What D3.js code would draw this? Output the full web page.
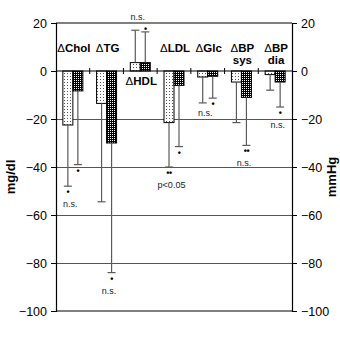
<!DOCTYPE html>
<html><head><meta charset="utf-8">
<script src="https://cdn.jsdelivr.net/npm/d3@7/dist/d3.min.js"></script>
<style>
html,body{margin:0;padding:0;background:#fff;}
svg text{font-family:"Liberation Sans",Arial,sans-serif;}
</style></head>
<body><svg id="chart" width="340" height="347"></svg>
<script>
const categories = ["ΔChol","ΔTG","ΔHDL","ΔLDL","ΔGlc","ΔBP sys","ΔBP dia"];
const labelLines = [["ΔChol"],["ΔTG"],["ΔHDL"],["ΔLDL"],["ΔGlc"],["ΔBP","sys"],["ΔBP","dia"]];
const valuesA = [-22.5,-13.5,3.5,-21.5,-2.5,-4.6,-1.5];
const valuesB = [-8.3,-30,3.5,-6,-2.2,-11,-4.6];
const errEndA = [-48,-54.5,17,-40,-13.3,-21.5,-8];
const errEndB = [-39,-84,16.3,-31.5,-11.3,-31,-15];
const sigA = ["•","","","••","","",""];
const sigB = ["•","•","•","•","•","••","•"];
const notes = ["n.s.","n.s.","n.s.","p<0.05","n.s.","n.s.","n.s."];
const yTicks = [20,0,-20,-40,-60,-80,-100];
const gridVals = [-20,-40,-60,-80];

const svg = d3.select("#chart");
const L = 56, R = 292, T = 23, B = 311;
const y = d3.scaleLinear().domain([-100,20]).range([B,T]);
const x = d3.scaleBand().domain(categories).range([L,R]).paddingInner(0).paddingOuter(0);
const bw = 10;

const defs = svg.append("defs");
const pA = defs.append("pattern").attr("id","pa").attr("patternUnits","userSpaceOnUse").attr("width",3).attr("height",3);
pA.append("rect").attr("width",3).attr("height",3).attr("fill","#fff");
pA.append("rect").attr("x",1).attr("y",1).attr("width",1).attr("height",1).attr("fill","#555");
const pB = defs.append("pattern").attr("id","pb").attr("patternUnits","userSpaceOnUse").attr("width",2).attr("height",2);
pB.append("rect").attr("width",2).attr("height",2).attr("fill","#000");
pB.append("rect").attr("x",0).attr("y",0).attr("width",1).attr("height",1).attr("fill","#fff");

// gridlines
svg.append("g").selectAll("line").data(gridVals).join("line")
  .attr("x1",L).attr("x2",R).attr("y1",d=>Math.round(y(d))+0.5).attr("y2",d=>Math.round(y(d))+0.5)
  .attr("stroke","#555").attr("stroke-width",1);

// frame
const fr = svg.append("g").attr("stroke","#000").attr("stroke-width",1.2);
fr.append("line").attr("x1",L).attr("x2",R).attr("y1",y(20)).attr("y2",y(20));
fr.append("line").attr("x1",L).attr("x2",R).attr("y1",y(-100)).attr("y2",y(-100));

// axes
const leftAxis = d3.axisLeft(y).tickValues(yTicks).tickSize(5).tickPadding(4).tickFormat(d3.format("d"));
const rightAxis = d3.axisRight(y).tickValues(yTicks).tickSize(5).tickPadding(4).tickFormat(d3.format("d"));
const gl = svg.append("g").attr("transform",`translate(${L},0)`).call(leftAxis);
const gr = svg.append("g").attr("transform",`translate(${R},0)`).call(rightAxis);
[gl,gr].forEach(g=>{
  g.select(".domain").attr("stroke","#000").attr("stroke-width",1.2);
  g.selectAll(".tick line").attr("stroke","#000");
  g.selectAll(".tick text").attr("font-size",12.5).attr("fill","#000")
    .attr("font-family","'Liberation Sans',Arial,sans-serif");
});

// bars
const gb = svg.append("g");
categories.forEach((c,i)=>{
  const cx = x(c) + x.bandwidth()/2;
  const a = valuesA[i], b = valuesB[i];
  gb.append("rect").attr("x",cx-bw).attr("width",bw)
    .attr("y",y(Math.max(0,a))).attr("height",Math.abs(y(a)-y(0)))
    .attr("fill","url(#pa)").attr("stroke","#000").attr("stroke-width",1);
  gb.append("rect").attr("x",cx).attr("width",bw)
    .attr("y",y(Math.max(0,b))).attr("height",Math.abs(y(b)-y(0)))
    .attr("fill","url(#pb)").attr("stroke","#000").attr("stroke-width",1);
});

// zero line with category ticks
svg.append("line").attr("x1",L).attr("x2",R).attr("y1",y(0)).attr("y2",y(0)).attr("stroke","#000").attr("stroke-width",1.2);
svg.append("g").selectAll("line").data(categories.slice(1)).join("line")
  .attr("x1",d=>x(d)).attr("x2",d=>x(d)).attr("y1",y(0)-3).attr("y2",y(0)+3)
  .attr("stroke","#000").attr("stroke-width",1);

// error bars & significance
const ge = svg.append("g");
categories.forEach((c,i)=>{
  const cx = x(c) + x.bandwidth()/2;
  const pairs = [[cx-bw/2, valuesA[i], errEndA[i], sigA[i]],[cx+bw/2, valuesB[i], errEndB[i], sigB[i]]];
  pairs.forEach(([wx,v,e,s])=>{
    const y0 = y(v), y1 = y(e);
    ge.append("line").attr("x1",wx).attr("x2",wx).attr("y1",y0).attr("y2",y1).attr("stroke","#5a5a5a").attr("stroke-width",1.2);
    ge.append("line").attr("x1",wx-4).attr("x2",wx+4).attr("y1",y1).attr("y2",y1).attr("stroke","#5a5a5a").attr("stroke-width",1.2);
    if(s){
      const dy = e<0 ? 6 : -3;
      ge.append("text").attr("x",wx).attr("y",y1+dy).attr("text-anchor","middle")
        .attr("dominant-baseline","central").attr("font-size",9).attr("font-weight","bold")
        .attr("letter-spacing",-0.5).attr("fill","#000").text(s);
    }
  });
  // group note
  const neg = errEndA[i] < 0;
  let idx;
  if(neg) idx = errEndA[i] <= errEndB[i] ? 0 : 1; else idx = errEndA[i] >= errEndB[i] ? 0 : 1;
  const wx = pairs[idx][0], e = pairs[idx][2], s = pairs[idx][3];
  const nx = (wx + cx)/2;
  const ny = neg ? y(e) + (s ? 18 : 10) : y(e) - 13;
  ge.append("text").attr("x",nx).attr("y",ny).attr("text-anchor","middle")
    .attr("dominant-baseline","central").attr("font-size",9).attr("fill","#1a1a2e").text(notes[i]);
});

// category labels (Δ in regular weight, rest bold)
const gc = svg.append("g");
categories.forEach((c,i)=>{
  const cx = x(c) + x.bandwidth()/2 + 1;
  const pos = valuesA[i] > 0;
  const base = pos ? y(0) + 14 : y(0) - 19;
  labelLines[i].forEach((t,j)=>{
    const tx = gc.append("text").attr("x",cx).attr("y",base + j*12).attr("text-anchor","middle")
      .attr("font-size",11.5).attr("fill","#000");
    if(t.startsWith("Δ")){
      tx.append("tspan").attr("font-weight","normal").text("Δ");
      tx.append("tspan").attr("font-weight","bold").text(t.slice(1));
    } else {
      tx.append("tspan").attr("font-weight","bold").text(t);
    }
  });
});

// axis titles
svg.append("text").attr("transform",`translate(15,${(T+B)/2 + 10}) rotate(-90)`)
  .attr("text-anchor","middle").attr("font-size",13).attr("font-weight","bold").text("mg/dl");
svg.append("text").attr("transform",`translate(336,${(T+B)/2 + 10}) rotate(-90)`)
  .attr("text-anchor","middle").attr("font-size",13).attr("font-weight","bold").text("mmHg");
</script></body></html>
